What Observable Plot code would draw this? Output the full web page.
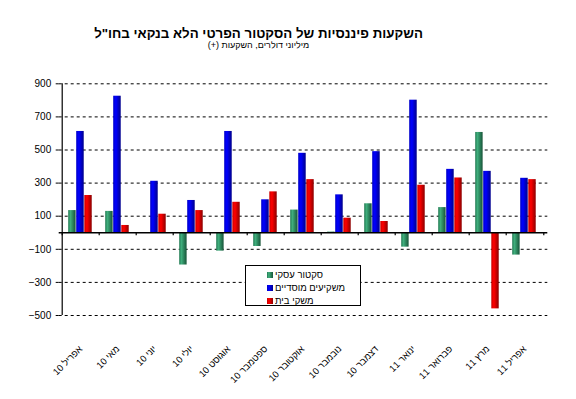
<!DOCTYPE html>
<html><head><meta charset="utf-8">
<script src="https://cdn.jsdelivr.net/npm/d3@7"></script>
<script src="https://cdn.jsdelivr.net/npm/@observablehq/plot@0.6"></script>
<style>
body{margin:0;background:#fff;font-family:"Liberation Sans",Arial,sans-serif;}
#wrap{position:relative;width:576px;height:399px;overflow:hidden;}
#head{position:relative;height:56px;}
#title{position:absolute;left:0;width:517px;top:27.5px;text-align:center;font-size:13.3px;font-weight:bold;line-height:12px;white-space:nowrap;}
#sub{position:absolute;left:0;width:517px;top:40.6px;text-align:center;font-size:9px;line-height:8px;white-space:nowrap;}
#legend{position:absolute;left:245px;top:265px;width:116px;height:41px;box-sizing:border-box;border:1px solid #000;background:#fff;}
.row{position:absolute;left:21px;height:12px;font-size:9.5px;line-height:12px;white-space:nowrap;}
.sw{display:inline-block;width:6px;height:6px;margin-right:2px;vertical-align:0px;}
</style></head>
<body>
<div id="wrap">
  <div id="head">
    <div id="title" dir="rtl">השקעות פיננסיות של הסקטור הפרטי הלא בנקאי בחו"ל</div>
    <div id="sub" dir="rtl">מיליוני דולרים, השקעות (+)</div>
  </div>
  <div id="chart"></div>
  <div id="legend"></div>
</div>
<script>
const categories = ["אפריל 10","מאי 10","יוני 10","יולי 10","אוגוסט 10","ספטמבר 10","אוקטובר 10","נובמבר 10","דצמבר 10","ינואר 11","פברואר 11","מרץ 11","אפריל 11"];
const business      = [134, 129, 0, -195, -111, -83, 137, 4, 175, -87, 152, 606, -135];
const institutional = [612, 825, 311, 195, 612, 199, 480, 229, 490, 801, 383, 371, 329];
const households    = [225, 44, 112, 134, 184, 247, 321, 88, 68, 287, 331, -460, 321];
const seriesNames = ["סקטור עסקי", "משקיעים מוסדיים", "משקי בית"];
const yTicks = [-500, -300, -100, 100, 300, 500, 700, 900];

const rows = categories.map((m, i) => ({month: m, business: business[i], institutional: institutional[i], households: households[i]}));

const W = 576, H = 343, mL = 58.7, mR = 28.7, mT = 27.3, mB = 84;
const bw = (W - mL - mR) / categories.length;

const grads = [
  {id: "gG", stops: [["0%", "#237a53"], ["30%", "#3fae7c"], ["100%", "#175438"]]},
  {id: "gB", stops: [["0%", "#0000c8"], ["35%", "#0000ff"], ["100%", "#00008c"]]},
  {id: "gR", stops: [["0%", "#c80000"], ["35%", "#ff0000"], ["100%", "#8c0000"]]}
];
const defsMark = () => {
  const ns = "http://www.w3.org/2000/svg";
  const defs = document.createElementNS(ns, "defs");
  for (const g of grads) {
    const lg = document.createElementNS(ns, "linearGradient");
    lg.setAttribute("id", g.id);
    lg.setAttribute("x1", "0"); lg.setAttribute("x2", "1"); lg.setAttribute("y1", "0"); lg.setAttribute("y2", "0");
    for (const [o, c] of g.stops) {
      const s = document.createElementNS(ns, "stop");
      s.setAttribute("offset", o); s.setAttribute("stop-color", c);
      lg.appendChild(s);
    }
    defs.appendChild(lg);
  }
  return defs;
};

const chart = Plot.plot({
  width: W, height: H,
  marginLeft: mL, marginRight: mR, marginTop: mT, marginBottom: mB,
  style: {fontFamily: "'Liberation Sans', Arial, sans-serif", background: "#fff", color: "#000"},
  x: {type: "band", domain: categories, padding: 0, axis: null},
  y: {domain: [-500, 900], axis: null},
  marks: [
    defsMark,
    Plot.gridY(yTicks, {stroke: "#000", strokeOpacity: 1, strokeDasharray: "3,3", strokeWidth: 1}),
    Plot.axisY(yTicks, {tickSize: 3, tickPadding: 5, fontSize: 10, label: null, stroke: "#000"}),
    Plot.ruleX([categories[0]], {dx: -bw / 2, y1: -500, y2: 900, stroke: "#000", strokeWidth: 1.2}),
    Plot.barY(rows, {x: "month", y: "business", fill: "url(#gG)", insetLeft: 6.2, insetRight: bw - 14.2}),
    Plot.barY(rows, {x: "month", y: "institutional", fill: "url(#gB)", insetLeft: 14.2, insetRight: bw - 22.3}),
    Plot.barY(rows, {x: "month", y: "households", fill: "url(#gR)", insetLeft: 22.3, insetRight: bw - 30.3}),
    Plot.ruleY([0], {stroke: "#000", strokeWidth: 1.4}),
    Plot.ruleX(categories, {x: d => d, y1: 0, y2: -18, dx: -bw / 2, stroke: "#000", strokeWidth: 1.2}),
    Plot.ruleX([categories[categories.length - 1]], {y1: 0, y2: -18, dx: bw / 2, stroke: "#000", strokeWidth: 1.2}),
    Plot.text(categories, {x: d => d, frameAnchor: "bottom", dx: 2, dy: 34, rotate: -45, textAnchor: "end", lineAnchor: "bottom", fontSize: 9.4, fill: "#000"})
  ]
});
document.getElementById("chart").appendChild(chart);

const cols = ["linear-gradient(90deg,#237a53,#3fae7c 30%,#175438)", "linear-gradient(90deg,#0000c8,#0000ff 35%,#00008c)", "linear-gradient(90deg,#c80000,#ff0000 35%,#8c0000)"];
const leg = document.getElementById("legend");
const rowTops = [2.5, 15.8, 29];
seriesNames.forEach((n, i) => {
  const r = document.createElement("div");
  r.className = "row";
  r.style.top = rowTops[i] + "px";
  r.innerHTML = `<span class="sw" style="background:${cols[i]}"></span><span dir="rtl">${n}</span>`;
  leg.appendChild(r);
});
</script>
</body></html>
